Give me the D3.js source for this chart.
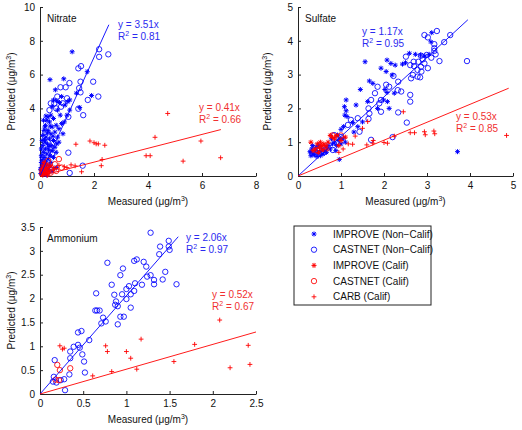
<!DOCTYPE html>
<html>
<head>
<meta charset="utf-8">
<script src="https://cdn.jsdelivr.net/npm/d3@7"></script>
<style>
  body { margin: 0; background: #fff; }
  svg { display: block; font-family: "Liberation Sans", Arial, Helvetica, sans-serif; }
</style>
</head>
<body>
<div id="chart"></div>
<script>
// ---- data (x = measured, y = predicted, ug/m3) ----
const SERIES_NAMES = ["IMPROVE (Non\u2212Calif)", "CASTNET (Non\u2212Calif)", "IMPROVE (Calif)", "CASTNET (Calif)", "CARB (Calif)"];

const nitrateImproveNon = [[1.19,7.35],[0.37,5.7],[1.75,6.17],[0.88,5.75],[0.57,5.1],[0.8,4.7],[1.1,4.5],[1.03,4.4],[0.93,4.2],[1.1,3.9],
  [0.5,4.5],[1.47,4.05],[1.91,4.76],[1.35,4.9],[0.72,4.35],[0.62,4.45],[0.45,4.1],[0.3,3.5],[0.4,3.6],[0.25,3.3],[0.35,3.2],[0.5,3.4],
  [0.6,3.0],[0.45,2.9],[0.2,3.0],[0.15,2.7],[0.3,2.7],[0.4,2.5],[0.55,2.6],[0.7,2.8],[0.1,2.4],[0.22,2.3],[0.35,2.2],[0.5,2.1],[0.65,2.3],
  [0.08,2.1],[0.18,2.0],[0.28,1.9],[0.42,1.8],[0.55,1.7],[0.1,1.8],[0.05,1.6],[0.2,1.6],[0.32,1.55],[0.45,1.5],[0.6,1.4],[0.12,1.4],
  [0.25,1.3],[0.38,1.2],[0.05,1.2],[0.15,1.1],[0.3,1.0],[0.5,1.1],[0.08,0.95],[0.2,0.85],[0.4,0.8],[0.1,0.7],[0.25,0.65],[0.05,0.5],
  [0.15,0.45],[0.3,0.4],[0.08,0.3],[0.18,0.2],[0.03,0.15],[0.12,0.1],[0.25,0.05],[0.05,0.8],[0.35,0.6],[0.45,0.3],[0.02,0.4],[0.6,0.5],
  [0.9,3.2],[0.75,3.6],[0.8,3.1],[0.65,3.9],[1.0,3.6],[0.27,2.55],[0.17,2.15],[0.33,1.75],[0.48,2.35],[0.7,2.0],[0.85,2.5],[0.62,1.9],
  [0.13,3.3],[0.22,3.55],[0.18,2.9],[0.38,2.95]];
const nitrateCastnetNon = [[2.19,7.5],[2.19,7.05],[2.53,7.2],[1.42,6.37],[1.52,6.5],[1.97,5.58],[1.5,5.58],[1.45,5.2],[0.95,5.25],[0.76,5.25],
  [1.09,5.5],[1.5,4.95],[1.77,4.5],[2.16,4.7],[1.6,3.6],[1.42,3.98],[1.05,3.5],[0.53,4.3],[0.64,4.7],[0.78,4.1],[0.35,3.9],[1.05,1.38],
  [1.58,0.61],[1.1,0.18],[0.43,0.37],[0.15,0.6],[0.1,1.1],[0.3,2.0],[0.2,2.6],[0.45,1.3],[0.25,1.5],[0.6,4.0],[0.85,4.3],[1.0,4.6],[0.4,4.3],[0.1,0.3]];
const nitrateImproveCal = [[0.05,0.1],[0.1,0.2],[0.15,0.35],[0.08,0.45],[0.2,0.15],[0.25,0.3],[0.12,0.6],[0.3,0.5],[0.05,0.3],[0.18,0.5],
  [0.35,0.25],[0.4,0.6],[0.22,0.7],[0.1,0.05],[0.28,0.05],[0.15,0.8],[0.5,0.4]];
const nitrateCastnetCal = [[0.7,1.0],[0.55,0.7],[0.3,0.9],[0.2,0.3],[0.4,0.2],[0.6,0.3],[0.8,0.5],[0.25,0.55]];
const nitrateCarb = [[4.73,3.7],[4.26,2.29],[5.96,2.07],[1.85,2.07],[2.0,1.97],[2.08,1.9],[2.16,1.9],[2.4,1.82],[1.33,1.88],[3.93,1.2],
  [4.08,1.2],[6.69,1.08],[5.3,0.88],[2.3,0.98],[2.27,0.61],[1.54,0.25],[1.3,0.6],[1.15,0.66],[0.7,0.63],[0.9,0.55],[0.6,0.45],[1.0,0.5]];

const sulfateImproveNon = [[3.11,4.24],[3.09,3.97],[2.59,3.63],[2.73,3.6],[1.56,3.38],[2.07,3.43],[2.16,3.33],[2.26,3.28],[2.43,3.31],[1.93,3.19],
  [2.05,3.09],[2.19,2.99],[1.45,2.56],[1.66,2.81],[1.74,2.74],[2.02,2.56],[2.07,2.47],[2.24,2.45],[1.99,2.25],[1.62,2.2],[2.12,2.0],
  [2.08,2.2],[1.12,2.25],[1.35,2.1],[1.08,2.05],[1.12,1.93],[1.09,1.8],[1.14,1.76],[1.27,1.58],[1.06,1.46],[1.0,1.38],[1.39,1.46],
  [0.92,1.21],[0.98,1.11],[0.96,0.49],[3.71,0.72],[2.85,3.58],[2.95,3.55],[3.05,3.6],[2.5,3.35],[1.85,2.0],[1.5,1.6],[1.3,1.3],
  [0.3,0.7],[0.35,0.65],[0.4,0.75],[0.32,0.8],[0.45,0.68],[0.5,0.72],[0.38,0.62],[0.28,0.72],[0.42,0.85],[0.55,0.8],[0.6,0.75],
  [0.48,0.9],[0.65,0.85],[0.7,0.9],[0.75,0.8],[0.8,0.95],[0.85,1.0],[0.9,0.9],[0.95,1.05],[1.0,0.95],[0.58,0.65],[0.34,0.9],[0.44,0.58],
  [0.52,0.6],[0.66,0.7],[0.3,0.6],[0.78,1.1],[0.88,0.75],[1.05,1.1],[1.1,1.0]];
const sulfateCastnetNon = [[2.94,4.17],[3.02,4.1],[3.23,4.29],[3.54,4.17],[3.4,3.96],[3.17,3.9],[3.17,3.78],[3.17,3.7],[2.99,3.58],[2.86,3.56],
  [2.51,3.53],[2.69,3.38],[2.8,3.38],[2.94,3.33],[2.86,3.23],[3.02,3.19],[2.78,3.14],[2.87,3.09],[2.61,3.28],[2.67,2.99],[2.78,2.94],
  [2.84,2.92],[2.63,2.89],[3.29,3.4],[3.93,3.4],[2.22,2.96],[2.12,2.64],[2.33,2.79],[2.32,2.54],[2.33,1.88],[2.61,2.2],[2.61,2.4],
  [2.53,1.58],[1.85,2.64],[1.79,2.45],[1.93,2.25],[1.89,2.15],[1.7,2.25],[1.64,2.0],[1.66,1.85],[1.64,1.69],[1.39,1.71],[1.23,1.66],
  [1.16,1.51],[1.43,1.31],[1.7,1.07],[0.84,1.21],[0.81,0.77],[1.93,1.9],[2.2,1.15],[2.4,2.5],[3.1,3.5],[3.2,3.6],[2.9,3.45],[0.6,0.7],
  [0.5,0.8],[0.9,1.0],[1.0,1.15],[2.05,2.7],[2.7,3.25]];
const sulfateImproveCal = [[0.3,1.0],[0.45,0.95],[0.5,0.85],[0.55,0.9],[0.4,0.8],[0.6,0.95],[0.65,0.9],[0.7,1.0],[0.75,1.2],[0.8,1.15],
  [0.85,1.1],[0.9,1.2],[1.0,1.05],[0.35,0.75],[0.48,0.7],[0.58,0.78],[0.68,0.8],[0.95,0.9],[1.1,1.15],[0.52,1.0]];
const sulfateCastnetCal = [[0.8,1.2],[0.6,0.8],[1.0,1.2],[0.45,0.75]];
const sulfateCarb = [[2.45,1.9],[1.62,1.61],[1.5,1.41],[1.33,1.18],[1.27,0.94],[1.17,0.95],[1.6,0.92],[1.74,0.97],[2.0,0.99],[2.08,0.97],
  [2.24,1.18],[2.61,1.28],[2.71,1.28],[2.94,1.31],[2.96,1.22],[3.16,1.33],[3.18,1.25],[4.85,1.2],[1.05,0.8],[0.95,0.7],[1.75,1.05]];

const ammoniumImproveNon = [];
const ammoniumCastnetNon = [[1.28,3.38],[1.49,3.21],[1.39,3.09],[1.49,3.09],[1.5,3.02],[1.38,2.93],[1.12,2.82],[1.09,2.79],[1.2,2.77],
  [0.78,2.75],[0.96,2.63],[1.23,2.67],[1.45,2.56],[1.28,2.49],[1.24,2.46],[1.32,2.39],[1.32,2.3],[1.42,2.4],[1.58,2.3],[0.93,2.49],
  [0.83,2.29],[1.1,2.32],[1.03,2.26],[1.0,2.2],[1.18,2.29],[1.09,2.16],[1.05,2.09],[0.95,2.09],[0.86,2.08],[1.0,1.99],[0.65,2.11],
  [0.88,1.94],[0.87,1.87],[0.9,1.84],[1.05,1.81],[0.64,1.75],[0.66,1.75],[0.69,1.75],[0.73,1.6],[0.71,1.48],[0.76,1.52],[0.93,1.62],
  [0.97,1.62],[0.9,1.46],[0.44,1.29],[0.48,1.32],[0.57,1.13],[0.39,0.99],[0.44,1.03],[0.46,0.97],[0.35,0.89],[0.49,0.83],[0.35,0.75],
  [0.51,0.68],[0.17,0.71],[0.34,0.41],[0.52,0.45],[0.16,0.36],[0.19,0.24],[0.24,0.29],[0.28,0.31],[0.15,0.26],[0.29,0.08]];
const ammoniumImproveCal = [];
const ammoniumCastnetCal = [[0.2,0.61],[0.23,0.5],[0.35,0.54],[0.22,0.29],[0.18,0.3]];
const ammoniumCarb = [[0.23,1.01],[0.28,0.96],[0.26,0.94],[0.76,1.01],[0.78,0.89],[1.0,0.89],[1.05,0.75],[1.17,1.15],[1.12,0.52],
  [0.83,0.47],[0.61,0.38],[1.55,0.68],[2.08,1.55],[1.79,1.04],[2.2,0.55],[2.41,1.02],[2.43,0.62]];

// regression lines: [slope, last x], R^2
const nitrateFits = [[3.51, 2.55, 0.81], [0.41, 6.7, 0.66]];
const sulfateFits = [[1.17, 3.95, 0.95], [0.53, 4.9, 0.85]];
const ammoniumFits = [[2.06, 1.6, 0.97], [0.52, 2.5, 0.67]];

const nitrateXTicks = [0, 2, 4, 6, 8], nitrateYTicks = [0, 2, 4, 6, 8, 10];
const sulfateXTicks = [0, 1, 2, 3, 4, 5], sulfateYTicks = [0, 1, 2, 3, 4, 5];
const ammoniumXTicks = [0, 0.5, 1, 1.5, 2, 2.5], ammoniumYTicks = [0, 0.5, 1, 1.5, 2, 2.5, 3, 3.5];

// ---- drawing ----
const W = 522, H = 430;
const BLUE = "#0000ff", RED = "#ff0000";
const BLUE_TXT = "#2b2bf0", RED_TXT = "#f03030";
const FONT = 10;

const svg = d3.select("#chart").append("svg").attr("width", W).attr("height", H);

const panels = [
  { title: "Nitrate", box: [40, 256, 7, 176], xTicks: nitrateXTicks, yTicks: nitrateYTicks,
    series: [nitrateImproveNon, nitrateCastnetNon, nitrateImproveCal, nitrateCastnetCal, nitrateCarb],
    fits: nitrateFits, fitText: [[118, 28], [199, 111]], yLabelX: 15 },
  { title: "Sulfate", box: [298, 513, 7, 176], xTicks: sulfateXTicks, yTicks: sulfateYTicks,
    series: [sulfateImproveNon, sulfateCastnetNon, sulfateImproveCal, sulfateCastnetCal, sulfateCarb],
    fits: sulfateFits, fitText: [[362, 35], [456, 120]], yLabelX: 271 },
  { title: "Ammonium", box: [40, 256, 227, 394], xTicks: ammoniumXTicks, yTicks: ammoniumYTicks,
    series: [ammoniumImproveNon, ammoniumCastnetNon, ammoniumImproveCal, ammoniumCastnetCal, ammoniumCarb],
    fits: ammoniumFits, fitText: [[186, 241], [212, 298]], yLabelX: 15 }
];

const markerKinds = ["star", "circle", "star", "circle", "plus"];
const markerColors = [BLUE, BLUE, RED, RED, RED];

function drawMarker(g, kind, color, x, y) {
  if (kind === "circle") {
    g.append("circle").attr("cx", x).attr("cy", y).attr("r", 2.7)
      .attr("fill", "none").attr("stroke", color).attr("stroke-width", 0.85);
  } else if (kind === "plus") {
    const s = 2.4;
    g.append("path").attr("d", `M${x - s},${y}H${x + s}M${x},${y - s}V${y + s}`)
      .attr("stroke", color).attr("stroke-width", 0.9).attr("fill", "none");
  } else {
    const s = 2.5, d = 1.8;
    g.append("path")
      .attr("d", `M${x - s},${y}H${x + s}M${x},${y - s}V${y + s}M${x - d},${y - d}L${x + d},${y + d}M${x - d},${y + d}L${x + d},${y - d}`)
      .attr("stroke", color).attr("stroke-width", 1).attr("fill", "none");
  }
}

function unitLabel(sel, prefix) {
  sel.append("tspan").text(prefix + " (\u03bcg/m");
  sel.append("tspan").attr("font-size", 7).attr("dy", -4).text("3");
  sel.append("tspan").attr("dy", 4).text(")");
}

panels.forEach(p => {
  const [x0, x1, y0, y1] = p.box;
  const x = d3.scaleLinear().domain([0, d3.max(p.xTicks)]).range([x0, x1]);
  const y = d3.scaleLinear().domain([0, d3.max(p.yTicks)]).range([y1, y0]);
  const g = svg.append("g");

  const xAxis = d3.axisBottom(x).tickValues(p.xTicks).tickSizeInner(-3).tickSizeOuter(0).tickPadding(6)
    .tickFormat(d3.format("~g"));
  const yAxis = d3.axisLeft(y).tickValues(p.yTicks).tickSizeInner(-3).tickSizeOuter(0).tickPadding(5)
    .tickFormat(d3.format("~g"));

  const gx = g.append("g").attr("transform", `translate(0,${y1})`).call(xAxis);
  const gy = g.append("g").attr("transform", `translate(${x0},0)`).call(yAxis);
  [gx, gy].forEach(a => {
    a.selectAll("path, line").attr("stroke", "#222").attr("stroke-width", 1);
    a.selectAll("text").attr("font-size", FONT).attr("fill", "#111").attr("font-family", null);
  });

  // markers
  p.series.forEach((pts, si) => {
    const mg = g.append("g");
    pts.forEach(d => drawMarker(mg, markerKinds[si], markerColors[si], x(d[0]), y(d[1])));
  });

  // fit lines
  const line = d3.line().x(d => x(d[0])).y(d => y(d[1]));
  p.fits.forEach((f, i) => {
    g.append("path").attr("d", line([[0, 0], [f[1], f[0] * f[1]]]))
      .attr("stroke", i === 0 ? BLUE : RED).attr("stroke-width", 0.9).attr("fill", "none");
    const [tx, ty] = p.fitText[i];
    const col = i === 0 ? BLUE_TXT : RED_TXT;
    g.append("text").attr("x", tx).attr("y", ty).attr("font-size", FONT).attr("fill", col)
      .text(`y = ${f[0].toFixed(2)}x`);
    const r = g.append("text").attr("x", tx).attr("y", ty + 12).attr("font-size", FONT).attr("fill", col);
    r.append("tspan").text("R");
    r.append("tspan").attr("font-size", 7).attr("dy", -4).text("2");
    r.append("tspan").attr("dy", 4).text(` = ${f[2].toFixed(2)}`);
  });

  g.append("text").attr("x", x0 + 7).attr("y", y0 + 15).attr("font-size", FONT).attr("fill", "#111").text(p.title);

  const xl = g.append("text").attr("x", (x0 + x1) / 2).attr("y", y1 + 29).attr("text-anchor", "middle")
    .attr("font-size", FONT).attr("fill", "#111");
  unitLabel(xl, "Measured");
  const yl = g.append("text").attr("transform", `translate(${p.yLabelX},${(y0 + y1) / 2}) rotate(-90)`)
    .attr("text-anchor", "middle").attr("font-size", FONT).attr("fill", "#111");
  unitLabel(yl, "Predicted");
});

// legend
const legend = svg.append("g");
const lgBox = [294, 226, 137, 79];
legend.append("rect").attr("x", lgBox[0]).attr("y", lgBox[1]).attr("width", lgBox[2]).attr("height", lgBox[3])
  .attr("fill", "#fff").attr("stroke", "#222").attr("stroke-width", 1);
SERIES_NAMES.forEach((name, i) => {
  const cy = 234 + i * 15.7;
  drawMarker(legend, markerKinds[i], markerColors[i], 314, cy);
  legend.append("text").attr("x", 333).attr("y", cy + 3.5).attr("font-size", FONT).attr("fill", "#111").text(name);
});
</script>
</body>
</html>
